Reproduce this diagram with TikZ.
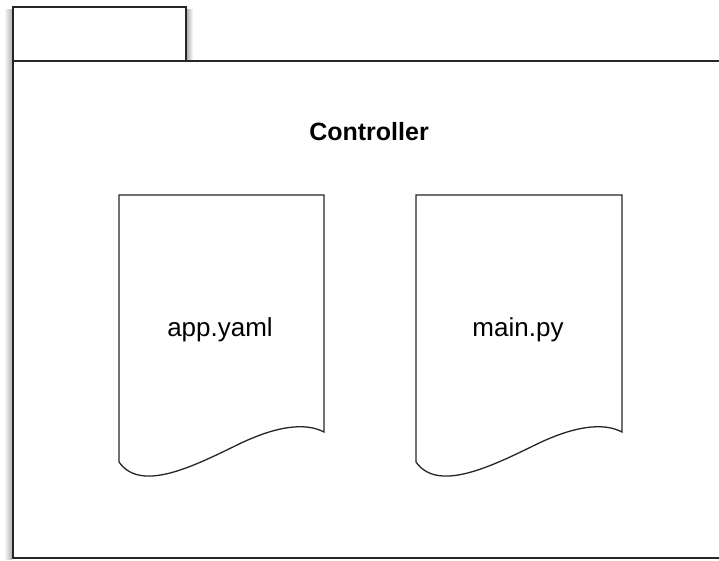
\documentclass[tikz,border=0pt]{standalone}
\usepackage{fontspec}
\setmainfont{Liberation Sans}
\begin{document}
\begin{tikzpicture}[x=1pt,y=-1pt,
  outline/.style={draw=black!85,line width=1.8pt,line join=miter},
  doc/.style={draw=black!85,line width=1.3pt,fill=white},
  lbl/.style={font=\fontsize{26}{31}\selectfont,inner sep=0pt},
  title/.style={font=\bfseries\fontsize{25}{30}\selectfont,inner sep=0pt}]
\useasboundingbox (0,0) rectangle (719,561);
\fill[white] (0,0) rectangle (719,561);
% soft shadow on the left
\shade[left color=white,right color=black!30] (4,10) rectangle (12,559);
\shade[left color=black!30,right color=white] (187,10) rectangle (193,60);
% package tab and body
\draw[outline,fill=white] (13,7) rectangle (186,61);
\draw[outline,fill=white] (13,61) -- (722,61) -- (722,558) -- (13,558) -- cycle;
\node[title] (ctl) at (369,132) {Controller};
% documents
\draw[doc] (119,195) -- (324,195) -- (324,432)
  .. controls (305,422) and (275,426) .. (235,446)
  .. controls (190,468) and (140,492) .. (119,462) -- cycle;
\node[lbl] (app) at (220,330) {app.yaml};
\draw[doc] (416,195) -- (622,195) -- (622,432)
  .. controls (603,422) and (573,426) .. (533,446)
  .. controls (488,468) and (437,492) .. (416,462) -- cycle;
\node[lbl] (mainpy) at (518,330) {main.py};
\end{tikzpicture}
\end{document}
